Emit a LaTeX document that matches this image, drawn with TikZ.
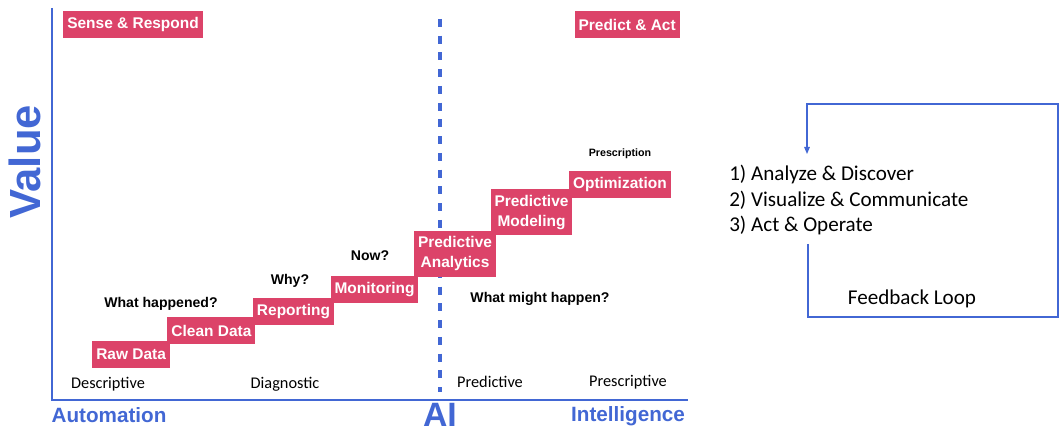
\documentclass[tikz,border=0pt]{standalone}
\usepackage{fontspec}
\setmainfont{Liberation Sans}
\newfontfamily\calibri{Carlito}
\usetikzlibrary{positioning,arrows.meta}

\definecolor{stairpink}{RGB}{220,67,105}
\definecolor{axisblue}{RGB}{66,103,212}

\begin{document}
\begin{tikzpicture}[x=0.025cm, y=-0.025cm]
    % Define styles
    \tikzstyle{stepbox} = [rectangle, fill=stairpink, text=white, font=\bfseries\fontsize{11}{14.2}\selectfont, inner xsep=0.1cm, inner ysep=0.06cm, minimum height=0.66cm, align=center]
    \tikzstyle{tallbox} = [stepbox, minimum height=1.15cm]
    \tikzstyle{question} = [font=\bfseries\fontsize{10}{12}\selectfont]
    \tikzstyle{phase} = [font=\calibri\fontsize{11.6}{14}\selectfont]
    \tikzstyle{axislabel} = [text=axisblue, font=\bfseries\fontsize{14.7}{17}\selectfont]
    \tikzstyle{arrow} = [axisblue, line width=0.8pt, -{Triangle[length=5pt,width=4pt]}]

    \useasboundingbox (0,0) rectangle (1061,439);

    % Axes and AI divider
    \draw [axisblue, line width=0.9pt] (52,8) -- (52,400) -- (688,400);
    \draw [axisblue, line width=2.6pt, dash pattern=on 5.7pt off 6.2pt] (440,19) -- (440,392);
    \node [rotate=90, text=axisblue, font=\bfseries\fontsize{31}{34}\selectfont] (value) at (25,162) {Value};
    \node [axislabel] (automation) at (109,415) {Automation};
    \node [text=axisblue, font=\bfseries\fontsize{24}{26}\selectfont] (ai) at (440,415) {AI};
    \node [axislabel] (intelligence) at (628,416) {Intelligence};

    % Corner headings
    \node [stepbox, anchor=north west] (sense) at (63,11) {Sense \& Respond};
    \node [stepbox, anchor=north east] (predict) at (680,11) {Predict \& Act};

    % Staircase
    \node [stepbox, anchor=south west] (raw) at (92,368) {Raw Data};
    \node [stepbox, above right=-0.075cm and -0.075cm of raw] (clean) {Clean Data};
    \node [stepbox, above right=-0.2cm and -0.075cm of clean] (reporting) {Reporting};
    \node [stepbox, above right=-0.125cm and -0.1cm of reporting] (monitoring) {Monitoring};
    \node [tallbox, above right=-0.025cm and -0.125cm of monitoring] (analytics) {Predictive\\Analytics};
    \node [tallbox, above right=-0.125cm and -0.15cm of analytics] (modeling) {Predictive\\Modeling};
    \node [stepbox, above right=-0.225cm and -0.1cm of modeling] (optimization) {Optimization};

    % Questions
    \node [question] (happened) at (161,304) {What happened?};
    \node [question] (why) at (290,281) {Why?};
    \node [question] (now) at (370,256) {Now?};
    \node [question] (might) at (540,299) {What might happen?};
    \node [question, font=\bfseries\fontsize{7.6}{9}\selectfont] (prescription) at (620,154) {Prescription};

    % Phases
    \node [phase] (descriptive) at (108,384) {Descriptive};
    \node [phase] (diagnostic) at (285,384) {Diagnostic};
    \node [phase] (predictive) at (490,382) {Predictive};
    \node [phase] (prescriptive) at (628,382) {Prescriptive};

    % Feedback loop
    \node [anchor=west, align=left, inner sep=0pt, font=\calibri\fontsize{15}{17.8}\selectfont] (actions) at (729,200) {1) Analyze \& Discover\\2) Visualize \& Communicate\\3) Act \& Operate};
    \node [font=\calibri\fontsize{15}{17.8}\selectfont] (feedback) at (912,299) {Feedback Loop};
    \coordinate (loopout) at (808,244);
    \coordinate (loopin) at (807,154);
    \draw [arrow] (loopout) -- (808,317) -- (1058,317) -- (1058,104) -- (807,104) -- (loopin);
\end{tikzpicture}
\end{document}
